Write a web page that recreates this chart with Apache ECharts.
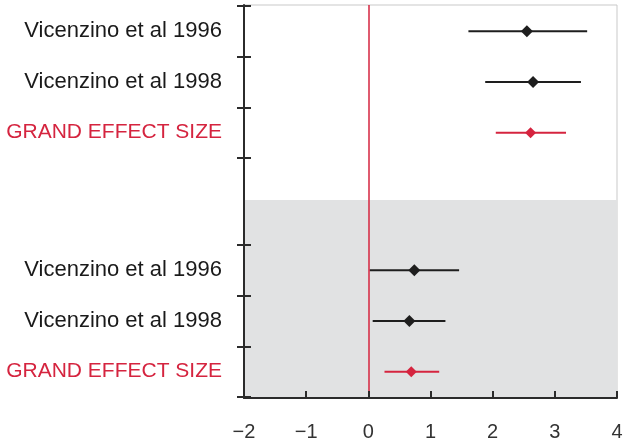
<!DOCTYPE html>
<html>
<head>
<meta charset="utf-8">
<script src="https://cdn.jsdelivr.net/npm/echarts@6/dist/echarts.min.js"></script>
<style>
html,body{margin:0;padding:0;background:#fff;}
#c{width:631px;height:444px;}
</style>
</head>
<body>
<div id="c"></div>
<script>
// ---- data ----
const rowLabels = ['Vicenzino et al 1996', 'Vicenzino et al 1998', 'GRAND EFFECT SIZE'];
const topEst = [2.55, 2.65, 2.61];
const topLo  = [1.61, 1.88, 2.05];
const topHi  = [3.52, 3.42, 3.18];
const bottomEst = [0.74, 0.66, 0.69];
const bottomLo  = [0.02, 0.07, 0.26];
const bottomHi  = [1.46, 1.24, 1.14];
const xMin = -2, xMax = 4, xStep = 1;
const bandSplit = 0.504; // fraction of plot height covered by grey band (from bottom)

// ---- styles ----
const RED = '#d5243f';
const BLACK = '#1e1e1e';
const AXIS = '#2b2b2b';
const FONT = 'Liberation Sans';

function rows(lo, est, hi) {
  return rowLabels.map((_, i) => [i, lo[i], est[i], hi[i]]);
}

function renderItem(params, api) {
  const cat = api.value(0);
  const p1 = api.coord([api.value(1), cat]);
  const p2 = api.coord([api.value(3), cat]);
  const pc = api.coord([api.value(2), cat]);
  const isGrand = rowLabels[cat] === 'GRAND EFFECT SIZE';
  const col = isGrand ? RED : BLACK;
  const w = isGrand ? 5.5 : 6, h = isGrand ? 5.5 : 6;
  return {
    type: 'group',
    children: [
      {type: 'line', shape: {x1: p1[0], y1: p1[1], x2: p2[0], y2: p2[1]},
       style: {stroke: col, lineWidth: 2}},
      {type: 'polygon', shape: {points: [[pc[0], pc[1] - h], [pc[0] + w, pc[1]], [pc[0], pc[1] + h], [pc[0] - w, pc[1]]]},
       style: {fill: col}}
    ]
  };
}

const chart = echarts.init(document.getElementById('c'), null, {renderer: 'canvas'});

const hiddenX = (gi) => ({type: 'value', gridIndex: gi, min: xMin, max: xMax, interval: xStep, show: false});

function catAxes(gi) {
  return [
    {type: 'category', gridIndex: gi, data: rowLabels, inverse: true, position: 'left', z: 5,
     axisLine: {show: false, onZero: false},
     axisTick: {show: true, inside: false, length: 7, lineStyle: {color: AXIS, width: 2}},
     axisLabel: {show: true, margin: 22, fontFamily: FONT, fontSize: 22, color: '#1a1a1a',
       formatter: (v) => v === 'GRAND EFFECT SIZE' ? '{g|' + v + '}' : v,
       rich: {g: {fontFamily: FONT, fontSize: 21, color: RED}}},
     splitLine: {show: false}},
    {type: 'category', gridIndex: gi, data: rowLabels, inverse: true, position: 'left', z: 5,
     axisLine: {show: false, onZero: false},
     axisTick: {show: true, inside: true, length: 7, lineStyle: {color: AXIS, width: 2}},
     axisLabel: {show: false},
     splitLine: {show: false}}
  ];
}

const option = {
  animation: false,
  backgroundColor: '#fff',
  textStyle: {fontFamily: FONT},
  grid: [
    {left: 244, right: 14, top: 5, bottom: 46, show: true, borderColor: '#c9c9c9', borderWidth: 1, backgroundColor: '#fff'},
    {left: 244, right: 14, top: 6, height: 152},
    {left: 244, right: 14, top: 245, height: 152}
  ],
  xAxis: [
    {type: 'value', gridIndex: 0, min: xMin, max: xMax, interval: xStep, z: 5,
     axisLine: {show: true, onZero: false, lineStyle: {color: AXIS, width: 2}},
     axisTick: {show: true, inside: true, length: 7, lineStyle: {color: AXIS, width: 2}},
     axisLabel: {margin: 24, fontFamily: FONT, fontSize: 20, color: '#333',
       formatter: (v) => String(v).replace('-', '\u2212')},
     splitLine: {show: false}},
    hiddenX(1),
    hiddenX(2)
  ],
  yAxis: [
    {type: 'value', gridIndex: 0, min: 0, max: 1, z: 5,
     axisLine: {show: true, onZero: false, lineStyle: {color: AXIS, width: 2}},
     axisTick: {show: false}, axisLabel: {show: false}, splitLine: {show: false}},
    ...catAxes(1),
    ...catAxes(2)
  ],
  series: [
    {type: 'scatter', xAxisIndex: 0, yAxisIndex: 0, data: [[0, 0.5]], symbolSize: 0, silent: true, z: 1,
     markArea: {silent: true, itemStyle: {color: '#e1e2e3'},
       data: [[{yAxis: 0}, {yAxis: bandSplit}]]},
     markLine: {silent: true, symbol: 'none', label: {show: false},
       lineStyle: {color: RED, width: 1.5, type: 'solid'},
       data: [{xAxis: 0}]}},
    {type: 'custom', xAxisIndex: 1, yAxisIndex: 1, renderItem, z: 3,
     encode: {x: [1, 2, 3], y: 0}, data: rows(topLo, topEst, topHi)},
    {type: 'custom', xAxisIndex: 2, yAxisIndex: 3, renderItem, z: 3,
     encode: {x: [1, 2, 3], y: 0}, data: rows(bottomLo, bottomEst, bottomHi)}
  ]
};
chart.setOption(option);
</script>
</body>
</html>
